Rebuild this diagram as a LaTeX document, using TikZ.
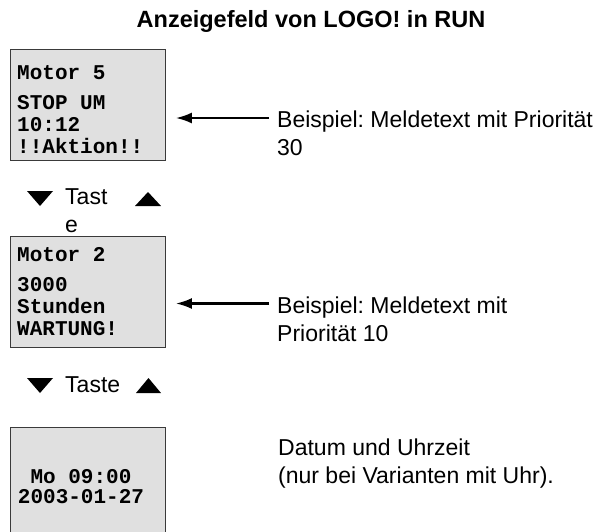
\documentclass[tikz,border=0pt]{standalone}
\usepackage{fontspec}
\setmainfont{Liberation Sans}
\setmonofont{Liberation Mono}
\usetikzlibrary{arrows.meta}
\definecolor{lcdgray}{HTML}{E0E0E0}
\definecolor{lcdborder}{HTML}{3A3A3A}
\frenchspacing

\begin{document}
\begin{tikzpicture}[
  x=1pt, y=-1pt,
  lcd/.style={
    draw=lcdborder,
    fill=lcdgray,
    line width=0.9pt,
    minimum width=155pt,
    inner sep=0pt,
    anchor=north west
  },
  lcdtext/.style={
    font=\ttfamily\bfseries\fontsize{21}{22}\selectfont,
    align=left,
    inner sep=0pt,
    anchor=north west
  },
  note/.style={
    font=\fontsize{23}{28}\selectfont,
    align=left,
    inner sep=0pt,
    anchor=north west
  },
  pointer/.style={
    -{Latex[length=16pt,width=11pt]},
    line width=2.2pt,
    shorten >=10pt
  }
]
  \useasboundingbox (0,0) rectangle (610,531);
  \clip (0,0) rectangle (610,531);

  % --- Title ---
  \node[font=\bfseries\fontsize{23.5}{28}\selectfont, inner sep=0pt, anchor=base] (title) at (311,27) {Anzeigefeld von LOGO! in RUN};

  % --- Display 1: message text, priority 30 ---
  \node[lcd, minimum height=111pt] (disp1) at (10,49) {};
  \node[lcdtext] (txt1) at (17,65) {Motor 5\\[8pt]STOP UM\\10:12\\!!Aktion!!};
  \node[note] (lbl1) at (277,110.5) {Beispiel: Meldetext mit Priorität\\30};
  \coordinate (from1) at ([shift={(-8pt,-7.5pt)}]lbl1.north west);
  \draw[pointer] (from1) -- (from1 -| disp1.east);

  % --- Key row 1 ---
  \node[note] (key1) at (65,188.5) {Tast\\e};
  \fill (27,191) -- (53,191) -- (40,206) -- cycle;
  \fill (135,206) -- (161,206) -- (148,192) -- cycle;

  % --- Display 2: message text, priority 10 ---
  \node[lcd, minimum height=111pt] (disp2) at (10,236) {};
  \node[lcdtext] (txt2) at (17,247) {Motor 2\\[8pt]3000\\Stunden\\WARTUNG!};
  \node[note] (lbl2) at (277,296.5) {Beispiel: Meldetext mit\\Priorität 10};
  \coordinate (from2) at ([shift={(-8pt,-7pt)}]lbl2.north west);
  \draw[pointer] (from2) -- (from2 -| disp2.east);

  % --- Key row 2 ---
  \node[note] (key2) at (65,376.5) {Taste};
  \fill (27,378) -- (53,378) -- (40,393) -- cycle;
  \fill (136,393) -- (161,393) -- (148.5,378) -- cycle;

  % --- Display 3: date and time ---
  \node[lcd, minimum height=130pt] (disp3) at (10,427) {};
  \node[lcdtext, align=center, anchor=north] (txt3) at (81,469) {Mo 09:00\\[-2pt]2003-01-27};
  \node[note] (lbl3) at (278,438.5) {Datum und Uhrzeit\\(nur bei Varianten mit Uhr).};

\end{tikzpicture}
\end{document}
